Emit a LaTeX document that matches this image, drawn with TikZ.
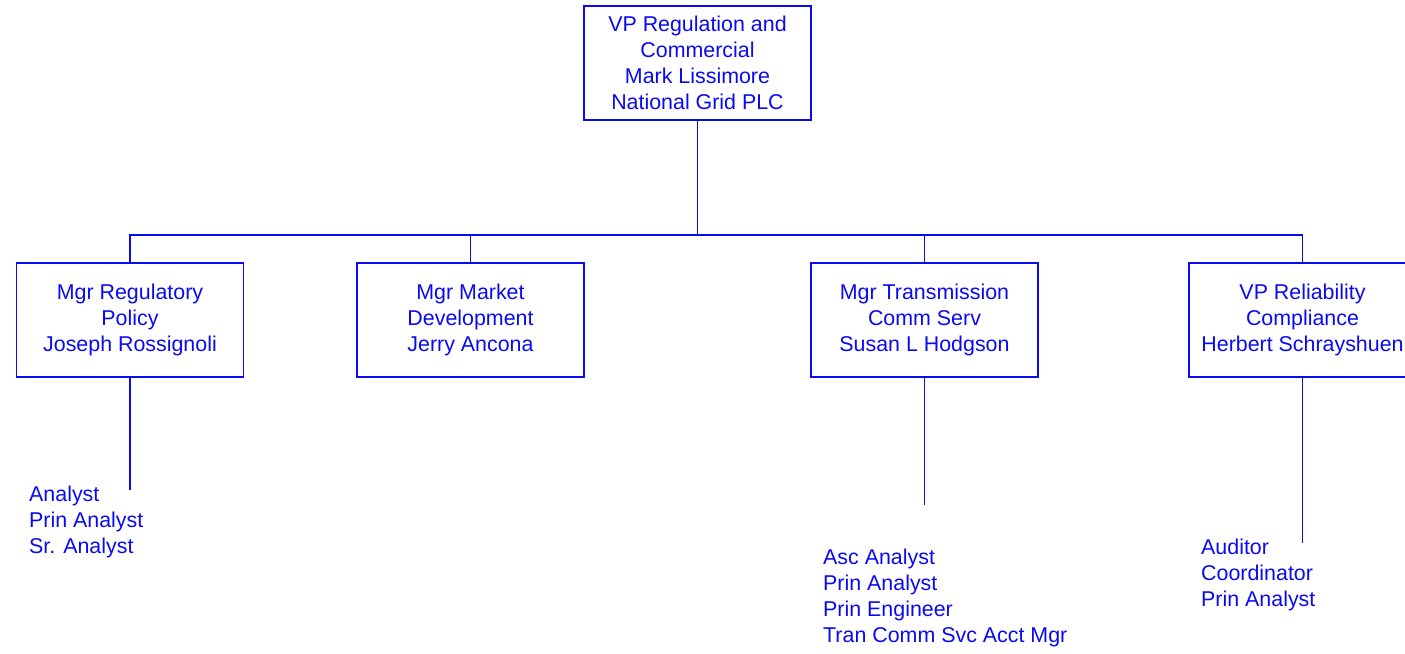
\documentclass[tikz,border=0pt]{standalone}
\usepackage{fontspec}
\setmainfont{Liberation Sans}
\definecolor{orgblue}{RGB}{10,10,240}
\begin{document}
\begin{tikzpicture}[x=1pt,y=-1pt,
  every node/.style={text=orgblue,font=\fontsize{21.4}{26}\selectfont},
  unit/.style={draw=orgblue,line width=1.8pt,minimum width=227pt,minimum height=114pt,align=center,inner sep=0pt},
  staff/.style={align=left,anchor=north west,inner sep=0pt},
  link/.style={draw=orgblue,line width=1.8pt}]
\useasboundingbox (0,0) rectangle (1405,653);
\clip (0,0) rectangle (1405,653);
\node[unit] (top) at (697.5,63) {VP Regulation and\\Commercial\\Mark Lissimore\\National Grid PLC};
\node[unit] (b1) at (130,320) {Mgr Regulatory\\Policy\\Joseph Rossignoli};
\node[unit] (b2) at (470.5,320) {Mgr Market\\Development\\Jerry Ancona};
\node[unit] (b3) at (924.5,320) {Mgr Transmission\\Comm Serv\\Susan L Hodgson};
\node[unit] (b4) at (1302.5,320) {VP Reliability\\Compliance\\Herbert Schrayshuen};
\coordinate (bus) at (697.5,235);
\path[link] (top.south) -- (bus);
\path[link] (b1.north) -- (b1.north |- bus) -- (b4.north |- bus) -- (b4.north);
\path[link] (b2.north) -- (b2.north |- bus);
\path[link] (b3.north) -- (b3.north |- bus);
\coordinate (e1) at (130,490);
\coordinate (e3) at (924.5,505);
\coordinate (e4) at (1302.5,543);
\path[link] (b1.south) -- (e1);
\path[link] (b3.south) -- (e3);
\path[link] (b4.south) -- (e4);
\node[staff] (s1) at (29,486) {Analyst\\Prin Analyst\\Sr. Analyst};
\node[staff] (s3) at (823,549) {Asc Analyst\\Prin Analyst\\Prin Engineer\\Tran Comm Svc Acct Mgr};
\node[staff] (s4) at (1201,539) {Auditor\\Coordinator\\Prin Analyst};
\end{tikzpicture}
\end{document}
